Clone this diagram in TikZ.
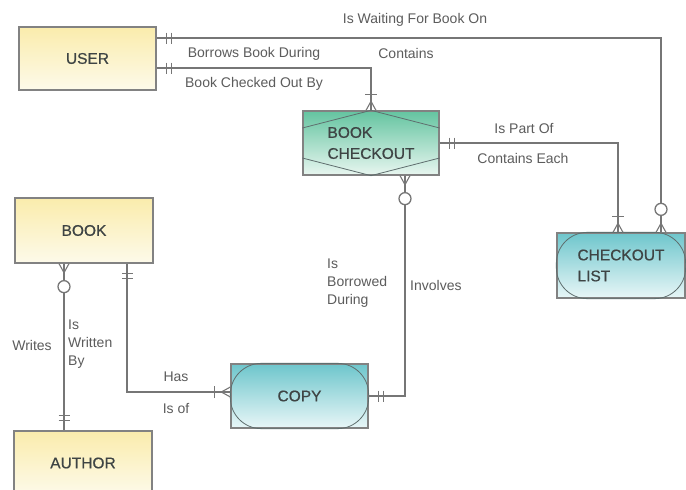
\documentclass[tikz,border=0pt]{standalone}
\usepackage{fontspec}
\setmainfont{Liberation Sans}
\newfontfamily\entfont{Liberation Sans}[FakeBold=0.6]
\usetikzlibrary{calc}
\definecolor{linec}{RGB}{118,118,118}
\definecolor{borderc}{RGB}{130,130,130}
\definecolor{entc}{RGB}{62,68,68}
\definecolor{lblc}{RGB}{92,92,92}
\definecolor{yeltop}{RGB}{250,236,172}
\definecolor{yelbot}{RGB}{253,250,234}
\definecolor{grntop}{RGB}{100,196,160}
\definecolor{grnbot}{RGB}{232,246,240}
\definecolor{cyntop}{RGB}{110,198,204}
\definecolor{cynbot}{RGB}{232,246,247}
\definecolor{innerc}{RGB}{95,110,110}
\begin{document}
\begin{tikzpicture}[x=1pt,y=-1pt,
  conn/.style={draw=linec,line width=1.3pt},
  ent/.style={draw=borderc,line width=1.3pt,inner sep=0pt,text=entc,
    font=\entfont\fontsize{15.5}{21}\selectfont,align=left},
  yel/.style={ent,top color=yeltop,bottom color=yelbot},
  grn/.style={ent,top color=grntop,bottom color=grnbot},
  cyn/.style={ent,top color=cyntop,bottom color=cynbot},
  inner/.style={draw=innerc,line width=0.8pt},
  lbl/.style={text=lblc,font=\fontsize{14}{18}\selectfont,inner sep=0pt,align=left},
  dbar/.pic={\draw[conn] (10,-5.5)--(10,5.5) (15,-5.5)--(15,5.5);},
  omany/.pic={\draw[conn,line width=1.1pt] (0,-5)--(9,0)--(0,5) (0,0)--(9,0);
              \draw[conn] (16,-6)--(16,6);},
  zmany/.pic={\draw[conn,line width=1.1pt] (0,-5)--(9,0)--(0,5) (0,0)--(9,0);
              \draw[conn,fill=white] (23,0) circle[radius=6];}
]
\useasboundingbox (0,0) rectangle (686,490);
\fill[white] (0,0) rectangle (686,490);
\clip (0,0) rectangle (686,490);

% entities
\node[yel,minimum width=137pt,minimum height=63pt] (user) at (87.5,58.5) {USER};
\node[grn,minimum width=136pt,minimum height=64pt] (bc) at (371,143) {BOOK\\CHECKOUT};
\node[cyn,minimum width=128pt,minimum height=65pt] (cl) at (621,265.5) {CHECKOUT\\LIST};
\node[yel,minimum width=138pt,minimum height=65pt] (book) at (84,230.5) {BOOK};
\node[yel,minimum width=138pt,minimum height=64pt] (author) at (83,463) {AUTHOR};
\node[cyn,minimum width=137pt,minimum height=64pt] (copy) at (299.5,396) {COPY};

% inner symbols
\draw[inner] (bc.west |- 0,128) -- (bc.north) -- (bc.east |- 0,128)
             (bc.west |- 0,158) -- (bc.south) -- (bc.east |- 0,158);
\draw[inner,rounded corners=31pt] (cl.north west) rectangle (cl.south east);
\draw[inner,rounded corners=31pt] (copy.north west) rectangle (copy.south east);

% connectors
\draw[conn] (user.east |- 0,38) -| (cl.north -| 661,0);
\draw[conn] (user.east |- 0,68) -| (bc.north);
\draw[conn] (bc.east) -| (cl.north -| 618,0);
\draw[conn] (bc.south -| 405,0) |- (copy.east);
\draw[conn] (book.south -| 64,0) -- (author.north -| 64,0);
\draw[conn] (book.south -| 127,0) |- (copy.west |- 0,392);

% cardinality marks
\path (user.east |- 0,38) pic {dbar};
\path (cl.north -| 661,0) pic[rotate=90] {zmany};
\path (user.east |- 0,68) pic {dbar};
\path (bc.north) pic[rotate=90] {omany};
\path (bc.east) pic {dbar};
\path (cl.north -| 618,0) pic[rotate=90] {omany};
\path (bc.south -| 405,0) pic[rotate=-90] {zmany};
\path (copy.east) pic {dbar};
\path (book.south -| 64,0) pic[rotate=-90] {zmany};
\path (author.north -| 64,0) pic[rotate=90] {dbar};
\path (book.south -| 127,0) pic[rotate=-90] {dbar};
\path (copy.west |- 0,392) pic[rotate=180] {omany};

% labels
\node[lbl] (l1) at (415,20) {Is Waiting For Book On};
\node[lbl] (l2) at (406,53) {Contains};
\node[lbl] (l3) at (254,54) {Borrows Book During};
\node[lbl] (l4) at (254,84) {Book Checked Out By};
\node[lbl] (l5) at (524,129) {Is Part Of};
\node[lbl] (l6) at (523,158) {Contains Each};
\node[lbl,anchor=west] (l7) at (327,283) {Is\\Borrowed\\During};
\node[lbl,anchor=west] (l8) at (410,285) {Involves};
\node[lbl] (l9) at (32,345) {Writes};
\node[lbl,anchor=west] (l10) at (68,344) {Is\\Written\\By};
\node[lbl] (l11) at (176,377) {Has};
\node[lbl] (l12) at (176,408) {Is of};
\end{tikzpicture}
\end{document}
